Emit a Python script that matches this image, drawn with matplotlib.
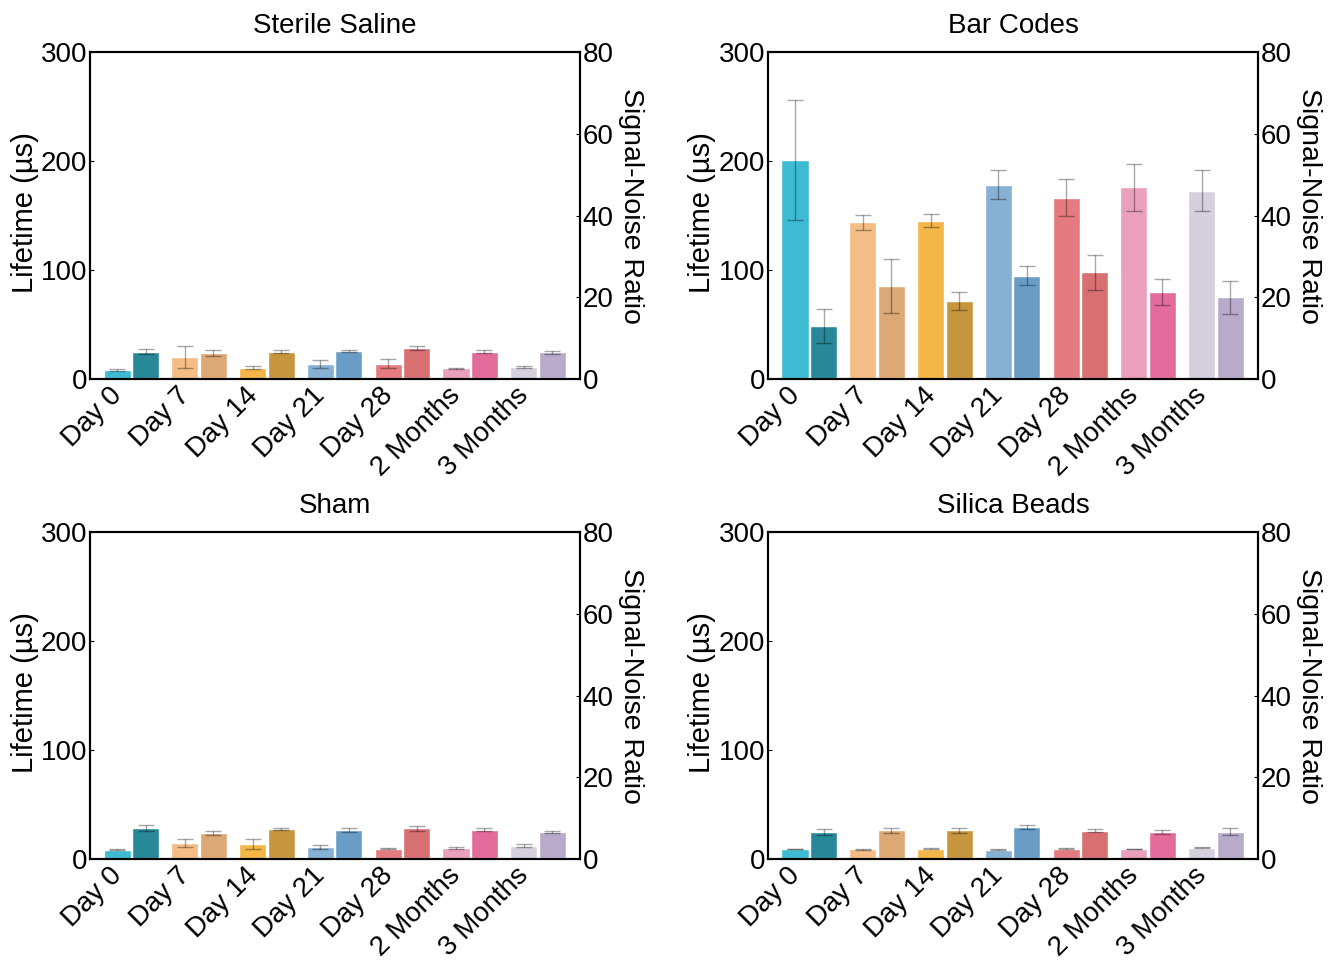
import numpy as np
import matplotlib.pyplot as plt

plt.rcParams['font.family'] = ['Liberation Sans', 'DejaVu Sans']

days = ['Day 0', 'Day 7', 'Day 14', 'Day 21', 'Day 28', '2 Months', '3 Months']

lightColors = ['#3DBBD3', '#F4BD86', '#F4B646', '#86B0D4', '#E57B80', '#EAA0BC', '#D6D0DE']
darkColors = ['#28889A', '#DCA876', '#C6963E', '#6A9DC6', '#D87072', '#E46C9A', '#B7AACA']

# Sterile Saline
salineLife = [8.5, 19.9, 10.4, 13.5, 14.0, 9.8, 10.7]
salineLifeErr = [0.8, 10.0, 1.6, 3.7, 4.3, 0.5, 1.0]
salineSnr = [6.7, 6.3, 6.7, 6.8, 7.5, 6.7, 6.5]
salineSnrErr = [0.7, 0.7, 0.3, 0.3, 0.5, 0.3, 0.3]

# Bar Codes
barLife = [201, 143.7, 145.3, 178.3, 166.3, 175.8, 172.7]
barLifeErr = [55, 7, 6.3, 13.4, 17, 21.4, 19]
barSnr = [13.0, 22.8, 19.2, 25.3, 26.1, 21.3, 20.0]
barSnrErr = [4.1, 6.6, 2.2, 2.4, 4.3, 3.2, 4.0]

# Sham
shamLife = [8.5, 14.7, 13.8, 11.3, 9.5, 10.1, 12.2]
shamLifeErr = [0.3, 4.0, 4.5, 2.0, 0.5, 0.5, 1.2]
shamSnr = [7.6, 6.4, 7.3, 7.0, 7.5, 7.2, 6.6]
shamSnrErr = [0.8, 0.5, 0.2, 0.5, 0.6, 0.3, 0.3]

# Silica Beads
silicaLife = [9.2, 8.9, 9.5, 8.5, 9.5, 9.2, 10.4]
silicaLifeErr = [0.3, 0.3, 0.3, 0.3, 0.3, 0.3, 0.4]
silicaSnr = [6.6, 7.0, 7.0, 7.9, 6.9, 6.6, 6.7]
silicaSnrErr = [0.8, 0.6, 0.6, 0.5, 0.4, 0.5, 0.8]

fig = plt.figure(figsize=(13.33, 9.61), dpi=100)

errStyle = dict(ecolor=(0, 0, 0, 0.35), elinewidth=1, capsize=6, capthick=1)


def plotPanel(rect, title, life, lifeErr, snr, snrErr):
    x = np.arange(len(days))
    ax = fig.add_axes(rect)
    ax.bar(x, life, width=0.4, color=lightColors, edgecolor='white', linewidth=1,
           yerr=lifeErr, error_kw=errStyle)
    ax.set_ylim(0, 300)
    ax.set_yticks([0, 100, 200, 300])
    ax.set_xlim(-0.4, 6.83)
    # labels sit a little right of the light bar, as in the original
    ax.set_xticks(x + 0.15)
    ax.set_xticklabels(days, rotation=45, ha='right')
    ax.tick_params(axis='x', length=0, pad=2.5, labelsize=20)
    ax.tick_params(axis='y', direction='in', length=3, pad=2, labelsize=20)
    ax.set_ylabel('Lifetime (µs)', fontsize=21)
    ax.yaxis.set_label_coords(-0.105, 0.51)
    ax.set_title(title, fontsize=20, pad=14)

    ax2 = ax.twinx()
    ax2.bar(x + 0.42, snr, width=0.4, color=darkColors, edgecolor='white', linewidth=1,
            yerr=snrErr, error_kw=errStyle)
    ax2.set_ylim(0, 80)
    ax2.set_yticks([0, 20, 40, 60, 80])
    ax2.tick_params(axis='y', direction='in', length=3, pad=2, labelsize=20)
    ax2.set_ylabel('Signal-Noise Ratio', fontsize=20.5, rotation=270, va='bottom')
    ax2.yaxis.set_label_coords(1.077, 0.53)
    for a in (ax, ax2):
        for s in a.spines.values():
            s.set_linewidth(1.5)


plotPanel([0.0675, 0.6056, 0.3676, 0.3403], 'Sterile Saline', salineLife, salineLifeErr, salineSnr, salineSnrErr)
plotPanel([0.5761, 0.6056, 0.3676, 0.3403], 'Bar Codes', barLife, barLifeErr, barSnr, barSnrErr)
plotPanel([0.0675, 0.1061, 0.3676, 0.3403], 'Sham', shamLife, shamLifeErr, shamSnr, shamSnrErr)
plotPanel([0.5761, 0.1061, 0.3676, 0.3403], 'Silica Beads', silicaLife, silicaLifeErr, silicaSnr, silicaSnrErr)

fig.savefig('out.png', dpi=100)
